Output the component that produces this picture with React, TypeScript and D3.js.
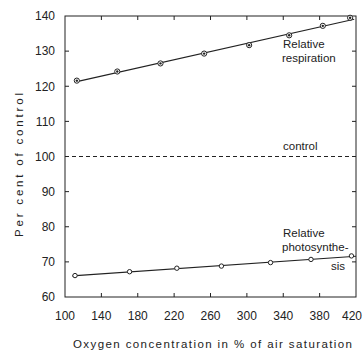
import React, { useEffect, useRef } from 'react';
import * as d3 from 'd3';

// values
const respX = [113, 157.5, 205, 253, 302.5, 346.5, 383.5, 413.5];
const respY = [121.6, 124.2, 126.5, 129.3, 131.7, 134.5, 137.2, 139.5];
const photoX = [111, 171, 223, 272, 326, 370.5, 415];
const photoY = [66.1, 67.2, 68.2, 68.8, 69.8, 70.7, 71.7];
const controlValue = 100;
const xTicks = [100, 140, 180, 220, 260, 300, 340, 380, 420];
const yTicks = [60, 70, 80, 90, 100, 110, 120, 130, 140];

const W = 364;
const H = 350;
const ink = '#222';
const font = '"Liberation Sans", Arial, sans-serif';

const fit = (xs: number[], ys: number[]) => {
  const mx = d3.mean(xs)!;
  const my = d3.mean(ys)!;
  const b = d3.sum(xs, (x, i) => (x - mx) * (ys[i] - my)) / d3.sum(xs, x => (x - mx) ** 2);
  return (x: number) => my + b * (x - mx);
};

const App = () => {
  const ref = useRef<SVGSVGElement>(null);

  useEffect(() => {
    const svg = d3.select(ref.current);
    svg.selectAll('*').remove();

    const x = d3.scaleLinear().domain([100, 420]).range([65, 356]);
    const y = d3.scaleLinear().domain([60, 140]).range([297, 16]);
    const [x0, x1] = x.range();
    const [y0, y1] = y.range();

    // frame
    svg.append('rect')
      .attr('x', x0).attr('y', y1)
      .attr('width', x1 - x0).attr('height', y0 - y1)
      .attr('fill', 'none').attr('stroke', ink).attr('stroke-width', 1);

    // inward ticks on all sides
    const g = svg.append('g').attr('stroke', ink).attr('stroke-width', 1);
    xTicks.slice(1, -1).forEach(t => {
      g.append('line').attr('x1', x(t)).attr('x2', x(t)).attr('y1', y0).attr('y2', y0 - 4);
      g.append('line').attr('x1', x(t)).attr('x2', x(t)).attr('y1', y1).attr('y2', y1 + 4);
    });
    yTicks.slice(1, -1).forEach(t => {
      g.append('line').attr('x1', x0).attr('x2', x0 + 4).attr('y1', y(t)).attr('y2', y(t));
      g.append('line').attr('x1', x1).attr('x2', x1 - 4).attr('y1', y(t)).attr('y2', y(t));
    });

    const txt = svg.append('g').attr('fill', ink).style('font-family', font);

    txt.selectAll('.yl').data(yTicks).enter().append('text')
      .attr('x', 55).attr('y', d => y(d)).attr('dy', '0.36em')
      .attr('text-anchor', 'end').style('font-size', '12px')
      .text(d => d);

    txt.selectAll('.xl').data(xTicks).enter().append('text')
      .attr('x', d => x(d) - (d === 420 ? 4 : 0)).attr('y', 320)
      .attr('text-anchor', 'middle').style('font-size', '12px')
      .text(d => d);

    txt.append('text')
      .attr('x', 73).attr('y', 348)
      .attr('textLength', 279).attr('lengthAdjust', 'spacing')
      .style('font-size', '11.5px')
      .text('Oxygen concentration in % of air saturation');

    txt.append('text')
      .attr('transform', 'translate(23,237) rotate(-90)')
      .attr('textLength', 144).attr('lengthAdjust', 'spacing')
      .style('font-size', '11.5px')
      .text('Per cent of control');

    // control line
    svg.append('line')
      .attr('x1', x0).attr('x2', x1)
      .attr('y1', y(controlValue)).attr('y2', y(controlValue))
      .attr('stroke', ink).attr('stroke-width', 1).attr('stroke-dasharray', '4,3');

    // fitted lines
    const line = d3.line<number[]>().x(d => x(d[0])).y(d => y(d[1]));
    const rf = fit(respX, respY);
    const pf = fit(photoX, photoY);
    svg.append('path')
      .attr('d', line([[respX[0], rf(respX[0])], [418, rf(418)]]))
      .attr('fill', 'none').attr('stroke', ink).attr('stroke-width', 1.1);
    svg.append('path')
      .attr('d', line([[photoX[0] - 3, pf(photoX[0] - 3)], [420, pf(420)]]))
      .attr('fill', 'none').attr('stroke', ink).attr('stroke-width', 1.1);

    // respiration markers: ringed dot
    const rp = svg.append('g');
    respX.forEach((v, i) => {
      rp.append('circle').attr('cx', x(v)).attr('cy', y(respY[i])).attr('r', 2.6)
        .attr('fill', '#fff').attr('stroke', ink).attr('stroke-width', 1);
      rp.append('circle').attr('cx', x(v)).attr('cy', y(respY[i])).attr('r', 1.2)
        .attr('fill', ink);
    });

    // photosynthesis markers: open circles
    svg.append('g').selectAll('circle')
      .data(photoX.map((v, i) => [v, photoY[i]]))
      .enter().append('circle')
      .attr('cx', d => x(d[0])).attr('cy', d => y(d[1])).attr('r', 2.2)
      .attr('fill', '#fff').attr('stroke', ink).attr('stroke-width', 1);

    // annotations
    const note = (t: string, px: number, py: number) =>
      txt.append('text').attr('x', px).attr('y', py).style('font-size', '11.5px').text(t);
    note('Relative', 283, 48);
    note('respiration', 282, 62);
    note('control', 283, 150);
    note('Relative', 283, 237);
    note('photosynthe-', 282, 251);
    note('sis', 331, 270);
  }, []);

  return (
    <svg ref={ref} width={W} height={H}
      style={{ position: 'absolute', left: 0, top: 0, background: '#fff' }} />
  );
};

export default App;
